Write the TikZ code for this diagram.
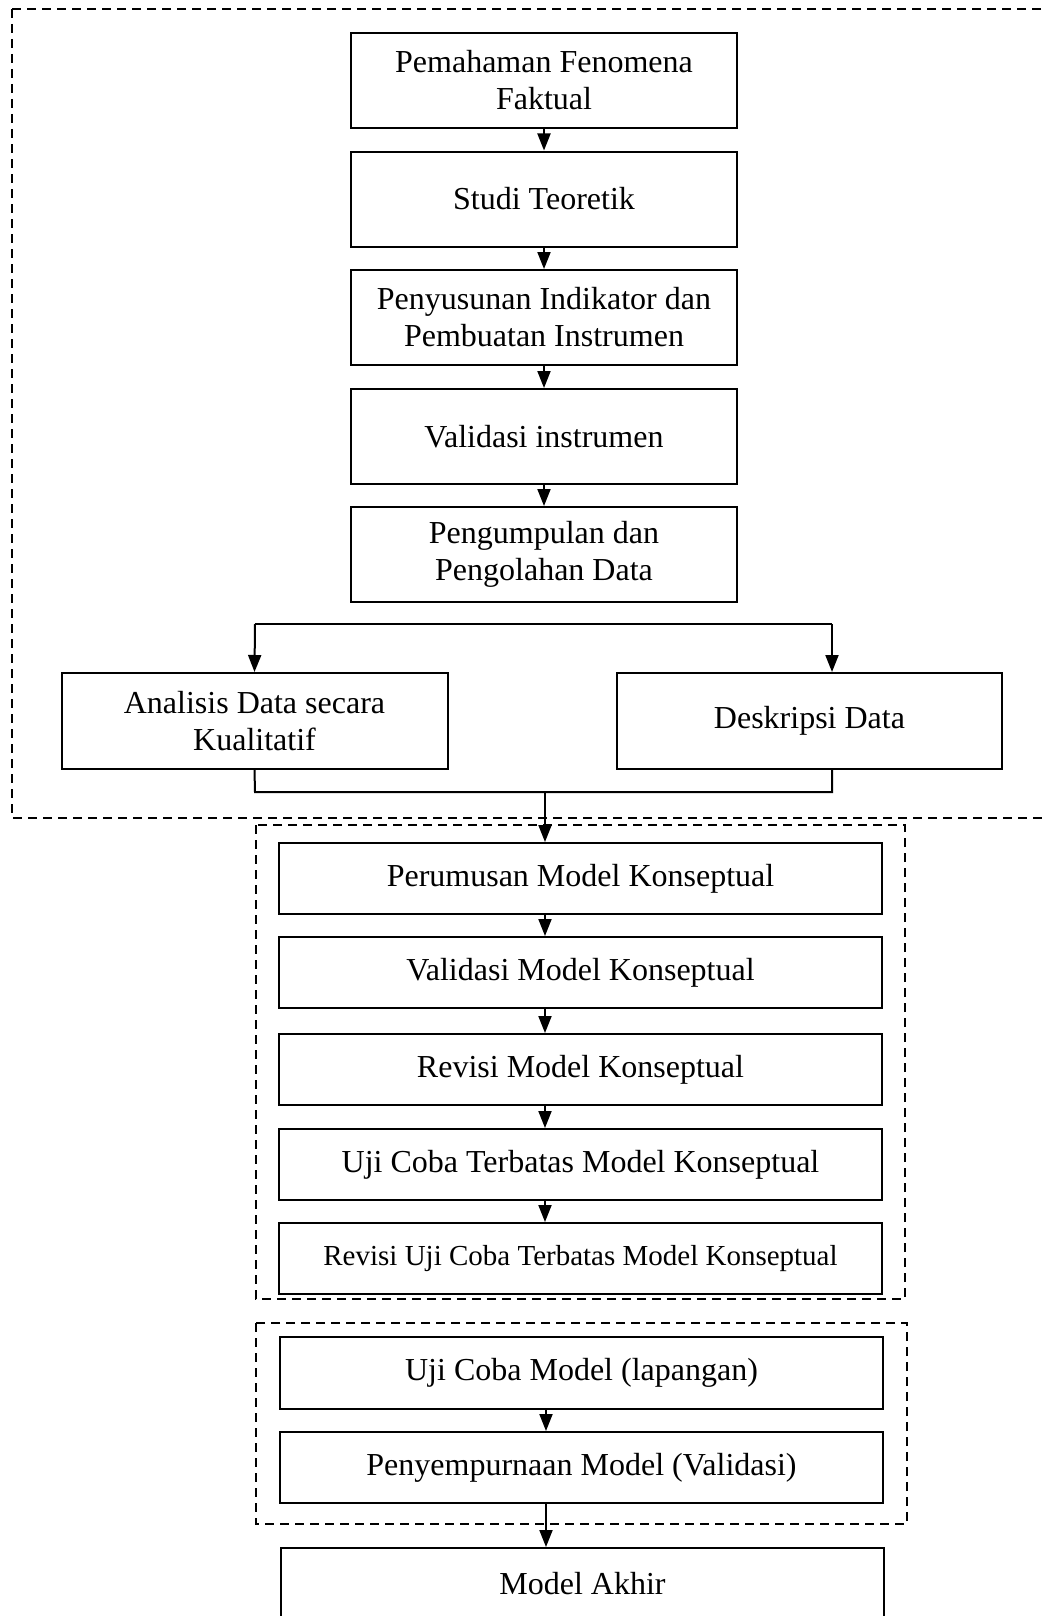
\documentclass[tikz,border=0pt]{standalone}
\usepackage{fontspec}
\setmainfont{Liberation Serif}
\usetikzlibrary{arrows.meta}
\tikzset{
  box/.style={draw, line width=1pt, align=center, inner sep=0pt,
    font=\fontsize{16pt}{18.5pt}\selectfont},
  topbox/.style={box, minimum width=193pt, minimum height=47.5pt},
  lowbox/.style={box, minimum width=301.5pt, minimum height=35.5pt},
  sidebox/.style={box, minimum width=193pt, minimum height=48pt},
  arr/.style={-{Triangle[length=8.5pt,width=6.5pt]}, line width=1pt},
  conn/.style={line width=1pt},
  grp/.style={line width=0.8pt, dash pattern=on 4.5pt off 3pt}
}
\begin{document}
\begin{tikzpicture}[x=0.5pt,y=-0.5pt]
\useasboundingbox (0,0) rectangle (1045,1616);
\clip (0,0) rectangle (1045,1616);
% group frames
\draw[grp] (12,9) rectangle (1060,818);
\draw[grp] (256,825) rectangle (905,1299);
\draw[grp] (256,1323) rectangle (907,1524);
% top column
\node[topbox] (n1) at (544,80.5) {Pemahaman Fenomena\\Faktual};
\node[topbox] (n2) at (544,199) {Studi Teoretik};
\node[topbox] (n3) at (544,317.5) {Penyusunan Indikator dan\\Pembuatan Instrumen};
\node[topbox] (n4) at (544,436.5) {Validasi instrumen};
\node[topbox] (n5) at (544,554.5) {Pengumpulan dan\\Pengolahan Data};
\draw[arr] (n1) -- (n2);
\draw[arr] (n2) -- (n3);
\draw[arr] (n3) -- (n4);
\draw[arr] (n4) -- (n5);
% split
\node[sidebox] (anal) at (254.5,721) {Analisis Data secara\\Kualitatif};
\node[sidebox, minimum width=192.5pt] (desk) at (809.5,721) {Deskripsi Data};
\coordinate (sL) at (255,624);
\coordinate (sR) at (832,624);
\draw[conn] (sL) -- (sR);
\draw[arr] (sL) -- (anal.north);
\draw[arr] (sR) -- (desk.north -| sR);
% merge
\coordinate (mL) at (255,792);
\coordinate (mR) at (832,792);
\coordinate (mM) at (545,792);
\draw[conn] (anal.south) -- (mL) -- (mR) -- (desk.south -| mR);
% lower group
\node[lowbox] (perum) at (580.5,878.5) {Perumusan Model Konseptual};
\node[lowbox] (valid) at (580.5,972.5) {Validasi Model Konseptual};
\node[lowbox] (revisi) at (580.5,1069.5) {Revisi Model Konseptual};
\node[lowbox] (ujit) at (580.5,1164.5) {Uji Coba Terbatas Model Konseptual};
\node[lowbox, font=\fontsize{14.5pt}{17pt}\selectfont] (revut) at (580.5,1258.5) {Revisi Uji Coba Terbatas Model Konseptual};
\node[lowbox, minimum height=36pt] (ujim) at (581.5,1373) {Uji Coba Model (lapangan)};
\node[lowbox] (peny) at (581.5,1467.5) {Penyempurnaan Model (Validasi)};
\node[lowbox, minimum height=36pt] (akhir) at (582.5,1584) {Model Akhir};
\draw[arr] (mM) -- (perum.north -| mM);
\draw[arr] (perum.south -| mM) -- (valid.north -| mM);
\draw[arr] (valid.south -| mM) -- (revisi.north -| mM);
\draw[arr] (revisi.south -| mM) -- (ujit.north -| mM);
\draw[arr] (ujit.south -| mM) -- (revut.north -| mM);
\coordinate (aX) at (546,1500);
\draw[arr] (ujim.south -| aX) -- (peny.north -| aX);
\draw[arr] (peny.south -| aX) -- (akhir.north -| aX);
\end{tikzpicture}
\end{document}
